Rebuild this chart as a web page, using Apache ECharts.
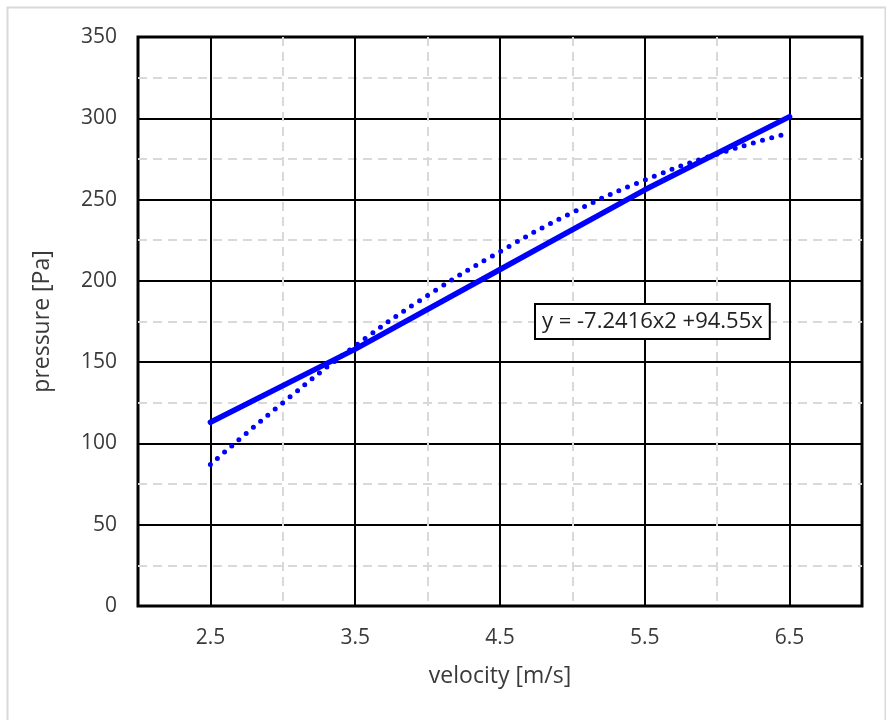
<!DOCTYPE html>
<html>
<head>
<meta charset="utf-8">
<script src="https://cdn.jsdelivr.net/npm/echarts@6/dist/echarts.min.js"></script>
<style>html,body{margin:0;padding:0;background:#fff}#c{width:886px;height:720px}</style>
</head>
<body>
<div id="c"></div>
<script>
// ---- data ----
var measuredX = [2.5, 3.5, 4.5, 5.5, 6.5];
var measuredP = [113, 158, 207, 256, 301];
var trendX = [2.5, 3.0, 3.5, 4.0, 4.5, 5.0, 5.5, 6.0, 6.5];
var trendP = [87, 125, 160, 191, 218, 242, 262, 278, 291];
var xTickLabels = ['2.5', '3.5', '4.5', '5.5', '6.5'];
var yTickLabels = ['0', '50', '100', '150', '200', '250', '300', '350'];
var equationText = 'y = -7.2416x2 +94.55x';
var xName = 'velocity [m/s]';
var yName = 'pressure [Pa]';

var FONT = 'Open Sans';
var TXT = '#3a3a3a';

function pairs(xs, ys) { return xs.map(function (x, i) { return [x, ys[i]]; }); }

var chart = echarts.init(document.getElementById('c'), null, { renderer: 'canvas' });
chart.setOption({
  animation: false,
  backgroundColor: '#fff',
  grid: {
    left: 138, right: 24, top: 37, bottom: 114,
    show: true, borderColor: '#000', borderWidth: 3, backgroundColor: 'transparent'
  },
  xAxis: [{
    type: 'value', min: 2, max: 7, interval: 1,
    axisLine: { show: true, onZero: false, lineStyle: { color: '#000', width: 2 } },
    axisTick: { show: false },
    axisLabel: { show: false },
    splitLine: { show: true, showMinLine: false, showMaxLine: false, lineStyle: { color: '#d9d9d9', width: 2, type: [9, 6] } },
    minorTick: { show: false, splitNumber: 2 },
    minorSplitLine: { show: true, lineStyle: { color: '#000', width: 2 } },
    name: xName, nameLocation: 'middle', nameGap: 59,
    nameTextStyle: { fontFamily: FONT, fontSize: 23, color: TXT }
  }, {
    type: 'value', min: 2, max: 7, interval: 0.5, position: 'bottom',
    axisLine: { show: false }, axisTick: { show: false }, splitLine: { show: false },
    axisLabel: {
      show: true, margin: 22, fontFamily: FONT, fontSize: 21, color: TXT,
      formatter: function (v) {
        var s = v.toFixed(1);
        return xTickLabels.indexOf(s) >= 0 ? s : '';
      }
    }
  }],
  yAxis: [{
    type: 'value', min: 0, max: 350, interval: 50,
    axisLine: { show: false }, axisTick: { show: false },
    axisLabel: {
      margin: 21, fontFamily: FONT, fontSize: 21, color: TXT,
      formatter: function (v) { var s = String(v); return yTickLabels.indexOf(s) >= 0 ? s : ''; }
    },
    splitLine: { show: true, showMinLine: false, showMaxLine: false, lineStyle: { color: '#000', width: 2 } },
    minorTick: { show: false, splitNumber: 2 },
    minorSplitLine: { show: true, lineStyle: { color: '#d9d9d9', width: 2, type: [9, 6] } },
    name: yName, nameLocation: 'middle', nameGap: 84, nameRotate: 90,
    nameTextStyle: { fontFamily: FONT, fontSize: 23, color: TXT }
  }],
  series: [{
    type: 'line', xAxisIndex: 0, data: pairs(measuredX, measuredP),
    showSymbol: false, symbol: 'none',
    lineStyle: { color: '#0000ff', width: 5.5, cap: 'round' }, z: 3
  }, {
    type: 'line', xAxisIndex: 0, data: pairs(trendX, trendP),
    showSymbol: false, symbol: 'none', smooth: true,
    lineStyle: { color: '#0000ff', width: 5, type: [0, 9.5], cap: 'round' }, z: 4
  }],
  graphic: [{
    type: 'rect', left: 5, top: 5, silent: true,
    shape: { width: 878, height: 730 },
    style: { fill: 'none', stroke: '#d9d9d9', lineWidth: 2 }, z: -10
  }, {
    type: 'text', left: 534, top: 303, z: 100,
    style: {
      text: equationText, fontFamily: FONT, fontSize: 22, fill: '#222',
      backgroundColor: '#fff', borderColor: '#000', borderWidth: 2,
      padding: [6, 6, 5, 6]
    }
  }]
});
</script>
</body>
</html>
